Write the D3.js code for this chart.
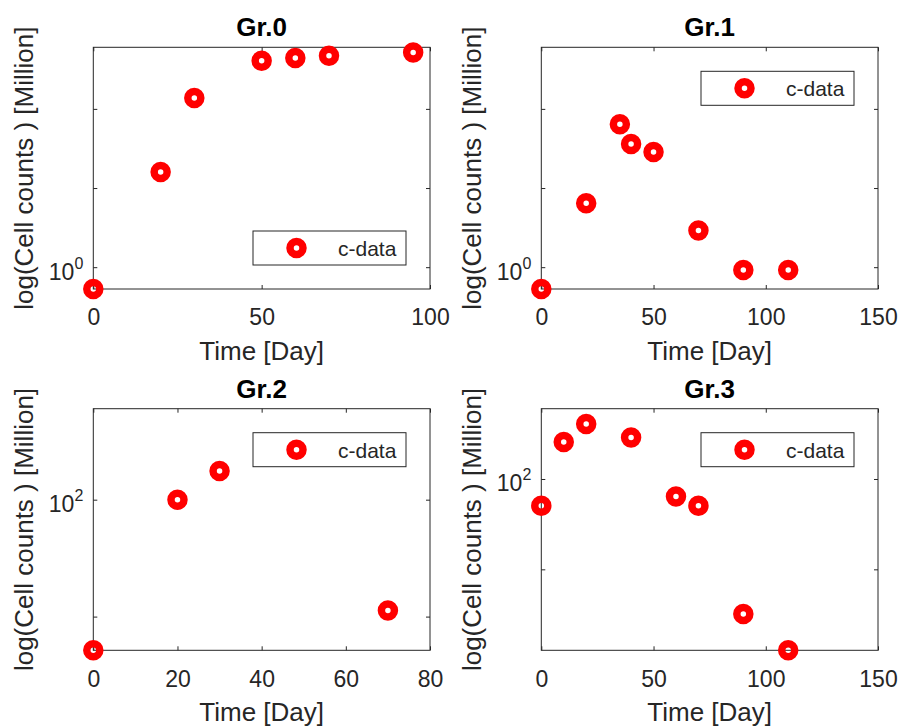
<!DOCTYPE html>
<html>
<head>
<meta charset="utf-8">
<script src="https://cdn.jsdelivr.net/npm/d3@7"></script>
<style>
  html, body { margin: 0; padding: 0; background: #fff; }
  svg { display: block; }
  text { font-family: "Liberation Sans", Arial, Helvetica, sans-serif; }
</style>
</head>
<body>
<svg id="fig" width="899" height="726"></svg>
<script>
// Cell counts (million) per group, sampled on the listed days
const days0  = [0, 20, 30, 50, 60, 70, 95];
const cells0 = [0.53, 16, 137, 405, 438, 470, 516];

const days1  = [0, 20, 35, 40, 50, 70, 90, 110];
const cells1 = [0.53, 6.4, 64, 36, 28.6, 2.9, 0.92, 0.92];

const days2  = [0, 20, 30, 70];
const cells2 = [5.15, 100, 176, 11.3];

const days3  = [0, 10, 20, 40, 60, 70, 90, 110];
const cells3 = [50.6, 256, 405, 288, 64, 50.6, 3.2, 1.27];

const titles = ["Gr.0", "Gr.1", "Gr.2", "Gr.3"];
const xMaxes = [100, 150, 80, 150];
const xTicks0 = [0, 50, 100];
const xTicks1 = [0, 50, 100, 150];
const xTicks2 = [0, 20, 40, 60, 80];
const xTicks3 = [0, 50, 100, 150];
const yMax = 600;
const yTicks0 = [1, 10, 100];
const yTicks1 = [1, 10, 100];
const yTicks2 = [10, 100];
const yTicks3 = [10, 100];
// exponent shown beside each y tick ("" = tick mark only)
const yTickExp0 = ["0", "", ""];
const yTickExp1 = ["0", "", ""];
const yTickExp2 = ["", "2"];
const yTickExp3 = ["", "2"];
const legendCorner = ["se", "ne", "ne", "ne"];
const seriesName = "c-data";
const xLabel = "Time [Day]";
const yLabel = "log(Cell counts ) [Million]";

const panels = [
  { days: days0, vals: cells0, xTicks: xTicks0, yTicks: yTicks0, yExp: yTickExp0 },
  { days: days1, vals: cells1, xTicks: xTicks1, yTicks: yTicks1, yExp: yTickExp1 },
  { days: days2, vals: cells2, xTicks: xTicks2, yTicks: yTicks2, yExp: yTickExp2 },
  { days: days3, vals: cells3, xTicks: xTicks3, yTicks: yTicks3, yExp: yTickExp3 }
];

// subplot grid geometry
const colLeft = [93.3, 541.3], colRight = [430, 878];
const rowTop = [47.3, 408.7], rowBottom = [289, 650.3];

const AX = "#262626";
const RED = "#ff0000";
const TICK_FS = 23, LABEL_FS = 26, LEGEND_FS = 21;
const MARK_R = 6.5, MARK_W = 7.5;

const svg = d3.select("#fig");

panels.forEach((p, i) => {
  const c = i % 2, r = Math.floor(i / 2);
  const L = colLeft[c], R = colRight[c], T = rowTop[r], B = rowBottom[r];

  const x = d3.scaleLinear().domain([0, xMaxes[i]]).range([L, R]);
  const y = d3.scaleLog().domain([d3.min(p.vals), yMax]).range([B, T]);

  const g = svg.append("g");

  // white plot area + box
  g.append("rect")
    .attr("x", x(0)).attr("y", y(yMax))
    .attr("width", x(xMaxes[i]) - x(0)).attr("height", y(d3.min(p.vals)) - y(yMax))
    .attr("fill", "#fff").attr("stroke", AX).attr("stroke-width", 1);

  // inward ticks on all four sides
  const bottom = g.append("g").attr("transform", `translate(0,${B})`)
    .call(d3.axisBottom(x).tickValues(p.xTicks).tickSizeInner(-4).tickSizeOuter(0).tickPadding(20));
  const top = g.append("g").attr("transform", `translate(0,${T})`)
    .call(d3.axisTop(x).tickValues(p.xTicks).tickSizeInner(-4).tickSizeOuter(0).tickFormat(() => ""));
  const left = g.append("g").attr("transform", `translate(${L},0)`)
    .call(d3.axisLeft(y).tickValues(p.yTicks).tickSizeInner(-4).tickSizeOuter(0).tickPadding(10).tickFormat(() => ""));
  const right = g.append("g").attr("transform", `translate(${R},0)`)
    .call(d3.axisRight(y).tickValues(p.yTicks).tickSizeInner(-4).tickSizeOuter(0).tickFormat(() => ""));

  [bottom, top, left, right].forEach(a => {
    a.select(".domain").remove();
    a.selectAll(".tick line").attr("stroke", AX).attr("stroke-width", 1);
  });
  bottom.selectAll(".tick text")
    .attr("fill", AX).attr("font-size", TICK_FS);

  // log tick labels as 10 with a raised exponent
  left.selectAll(".tick text").each(function (d, k) {
    const t = d3.select(this);
    const e = p.yExp[k];
    t.text(null).attr("fill", AX).attr("font-size", TICK_FS).attr("dy", "0.52em");
    if (!e) return;
    t.append("tspan").text("10");
    t.append("tspan").attr("font-size", 16).attr("dy", -11).text(e);
  });

  // title and axis labels
  g.append("text").attr("x", (L + R) / 2).attr("y", T - 11)
    .attr("text-anchor", "middle").attr("font-size", LABEL_FS).attr("font-weight", "bold")
    .attr("fill", "#000").text(titles[i]);
  g.append("text").attr("x", (L + R) / 2).attr("y", B + 70.5)
    .attr("text-anchor", "middle").attr("font-size", LABEL_FS).attr("fill", AX).text(xLabel);
  g.append("text").attr("transform", `translate(${L - 60},${(T + B) / 2}) rotate(-90)`)
    .attr("text-anchor", "middle").attr("font-size", LABEL_FS).attr("fill", AX).text(yLabel);

  // data markers (open circles, drawn over the box)
  g.append("g").selectAll("circle")
    .data(p.days.map((d, k) => [d, p.vals[k]]))
    .join("circle")
    .attr("cx", d => x(d[0])).attr("cy", d => y(d[1]))
    .attr("r", MARK_R).attr("fill", "none")
    .attr("stroke", RED).attr("stroke-width", MARK_W);

  // legend
  const lw = 153, lh = 34, inset = 24;
  const lx = R - inset - lw;
  const ly = legendCorner[i] === "se" ? B - inset - lh : T + inset;
  const lg = g.append("g").attr("transform", `translate(${lx},${ly})`);
  lg.append("rect").attr("width", lw).attr("height", lh)
    .attr("fill", "#fff").attr("stroke", AX).attr("stroke-width", 1);
  lg.append("circle").attr("cx", 43.5).attr("cy", lh / 2)
    .attr("r", MARK_R).attr("fill", "none").attr("stroke", RED).attr("stroke-width", MARK_W);
  lg.append("text").attr("x", 85).attr("y", lh / 2 + 8)
    .attr("font-size", LEGEND_FS).attr("fill", AX).text(seriesName);
});
</script>
</body>
</html>
